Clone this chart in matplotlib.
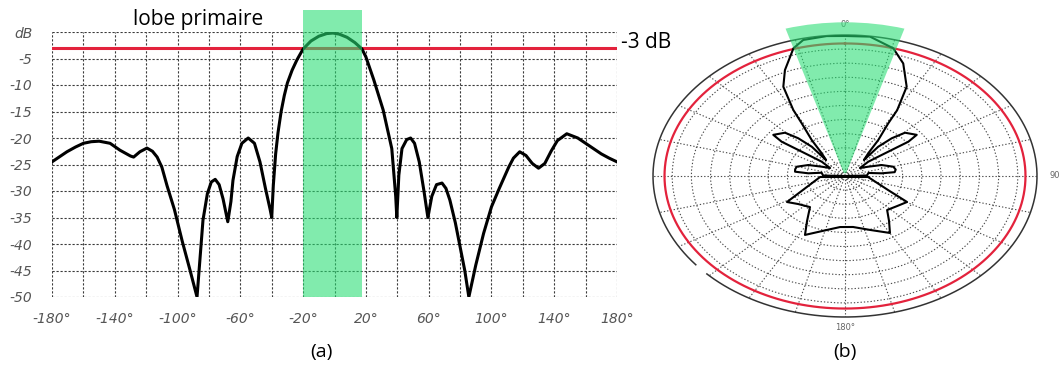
import numpy as np
from matplotlib import pyplot as plt

# (a) cartesian pattern: angle (deg) / gain (dB)
angle_a = [-180, -175, -170.5, -165, -160, -155, -150, -143, -136.7, -130, -128, -124,
           -119.5, -116, -113, -110, -106.7, -102, -97, -92, -87.6, -85.5, -83.8, -81,
           -78.5, -76, -73.5, -71, -68, -66, -64.7, -62, -59, -55, -51, -47.5, -44, -41,
           -40, -39, -37.5, -36, -34, -32, -30, -27, -24, -20, -15, -10, -5, -1, 3, 8,
           13, 17.5, 20, 25, 31, 36.5, 39, 39.7, 41, 43, 46, 48.5, 51, 54, 57, 59.5, 62,
           65, 68.5, 71, 73.5, 77, 80, 83, 85.6, 90, 95, 100, 105, 108, 111, 114, 118,
           122, 126, 130, 134, 138, 142, 148, 155, 160, 165, 170, 175, 180]
gain_a = [-24.5, -23.5, -22.6, -21.7, -21.0, -20.7, -20.6, -21.0, -22.3, -23.4, -23.6, -22.6,
          -21.9, -22.5, -23.6, -25.5, -29.0, -33.5, -39.5, -45.0, -50.0, -42.0, -35.5, -30.5,
          -28.3, -27.8, -28.8, -31.5, -35.8, -32.0, -28.0, -23.5, -21.0, -20.0, -21.0, -24.5, -29.5, -33.5,
          -35.0, -29.0, -23.0, -19.0, -15.0, -12.0, -9.6, -7.2, -5.3, -3.2, -1.7, -0.8, -0.3, -0.2, -0.4, -1.0,
          -2.0, -3.2, -4.7, -9.0, -14.7, -22.0, -31.0, -35.0, -27.0, -22.0, -20.3, -20.0, -21.0, -24.5, -30.0, -35.0, -31.0,
          -28.8, -28.5, -29.5, -31.7, -36.0, -40.5, -45.0, -50.0, -44.0, -38.0, -33.0, -29.5, -27.5, -25.5, -23.8, -22.6,
          -23.3, -24.8, -25.7, -24.8, -22.5, -20.5, -19.2, -20.0, -21.0, -22.0, -23.0, -23.8, -24.5]

# (b) polar pattern, front half (clockwise from -90 through 0 to 90)
angle_front = [-90, -88.3, -79.2, -84.3, -83.3, -79.6, -75.3, -67.8, -61.4, -53.9, -50.1, -52.0,
               -53.0, -53.6, -52.0, -45.5, -42.3, -39.8, -41.1, -36.9, -34.2, -31.1, -29.9, -26.9,
               -22.6, -16.5, -12.7, -5.5, 0, 7.5, 15.5, 20.8, 26.9, 30.2, 31.1, 34.2, 36.9, 41.1,
               39.8, 42.3, 45.5, 52.0, 53.6, 53.0, 52.0, 50.1, 53.9, 61.4, 67.8, 75.3, 80.2, 84.0,
               84.3, 80.0, 88.3, 90]
gain_front = [-50, -44.3, -43.8, -40.4, -36.9, -36.8, -37.0, -39.7, -43.1, -45.2, -42.1, -37.9,
              -33.7, -29.5, -26.3, -28.1, -31.9, -36.5, -42.5, -39.9, -34.6, -28.2, -23.0, -14.5,
              -9.3, -2.75, -0.55, -0.15, -0.35, -0.15, -3.0, -7.3, -14.5, -23.0, -28.2, -34.6, -39.9, -42.5,
              -36.5, -31.9, -28.1, -26.3, -29.5, -33.7, -37.9, -42.1, -45.2, -43.1, -39.7, -37.0, -36.6, -37.0,
              -40.4, -43.8, -44.3, -50]
# back half (star shape), closed by the flat line across the centre
angle_back = [93.3, 113.9, 119.7, 128.2, 137.7, 144.3, 149.9, 161.2, 173.4, 184.1, 193.8,
              206.5, 211.8, 219.6, 230.9, 238.6, 245.7, 266.9, 453.3]
gain_back = [-44.0, -37.75, -31.4, -32.75, -33.7, -30.35, -26.65, -29.8, -31.8, -31.85, -30.3,
             -26.65, -31.25, -35.7, -34.25, -32.3, -38.0, -43.5, -44.0]

half_power = -3
beam_a = [-20, 17.5]
beam_b = [-16.5, 16.5]

x_ticks = list(range(-180, 181, 40))
x_labels = ['{}°'.format(t) for t in x_ticks]
y_ticks = list(range(0, -51, -5))
y_labels = ['dB'] + [str(t) for t in y_ticks[1:]]

GREEN = '#26de72'
RED = '#e3223c'
GRID = dict(color='#3a3a3a', linestyle=(0, (2, 1.6)), linewidth=0.8)

fig = plt.figure(figsize=(10.62, 3.76), dpi=100)

# ---- (a) ----
ax = fig.add_axes([52 / 1062, 1 - 297 / 376, 565 / 1062, 265 / 376])
ax.plot(angle_a, gain_a, color='black', lw=2.2, solid_joinstyle='round', zorder=3)
ax.axhline(half_power, color=RED, lw=2.2, zorder=2)
ax.axvspan(beam_a[0], beam_a[1], ymin=0, ymax=1.083, color=GREEN, alpha=0.58,
           lw=0, clip_on=False, zorder=4)
ax.set_xlim(-180, 180)
ax.set_ylim(-50, 0)
ax.set_xticks(x_ticks)
ax.set_xticklabels(x_labels)
ax.set_xticks(range(-180, 181, 20), minor=True)
ax.set_yticks(y_ticks)
ax.set_yticklabels(y_labels)
ax.grid(True, which='both', **GRID)
ax.set_axisbelow(True)
ax.tick_params(which='both', length=0)
ax.tick_params(axis='x', pad=11)
ax.tick_params(axis='y', pad=14)
for lab in ax.get_xticklabels() + ax.get_yticklabels():
    lab.set_fontstyle('italic')
    lab.set_color('#555555')
    lab.set_fontsize(10)
for s in ax.spines.values():
    s.set_visible(False)

fig.text(198 / 1062, 1 - 19 / 376, 'lobe primaire', fontsize=15, family='Open Sans',
         ha='center', va='center')
fig.text(621 / 1062, 1 - 43 / 376, '-3 dB', fontsize=15, family='Open Sans',
         ha='left', va='center')
fig.text(321 / 1062, 1 - 352 / 376, '(a)', fontsize=14, family='Open Sans',
         ha='center', va='center')
fig.text(845 / 1062, 1 - 352 / 376, '(b)', fontsize=14, family='Open Sans',
         ha='center', va='center')

# ---- (b) ----
pax = fig.add_axes([653 / 1062, 1 - 317 / 376, 384 / 1062, 282 / 376], projection='polar')
pax.set_aspect('auto')
pax.set_theta_zero_location('N')
pax.set_theta_direction(-1)
pax.set_ylim(-50, 0)
pax.set_yticks(range(-45, 0, 5))
pax.set_yticklabels([])
pax.set_xticks(np.radians(np.arange(0, 360, 15)))
pax.set_xticklabels([])
pax.grid(True, color='#4a4a4a', linestyle=(0, (1.2, 1.8)), linewidth=0.8)
pax.spines['polar'].set_visible(False)
pax.tick_params(length=0)

ring = np.radians(np.arange(231, 226 + 361, 1))
pax.plot(ring, np.zeros(len(ring)), color='#333333', lw=1.1, clip_on=False)
full = np.radians(np.arange(0, 361, 1))
pax.plot(full, np.full(len(full), half_power), color=RED, lw=1.6)

pax.plot(np.radians(angle_front), gain_front, color='black', lw=1.5, solid_joinstyle='round')
pax.plot(np.radians(angle_back), gain_back, color='black', lw=1.5, solid_joinstyle='round')

pax.bar(0, 53.5, width=np.radians(beam_b[1] - beam_b[0]), bottom=-49, color=GREEN,
        alpha=0.58, lw=0, clip_on=False, zorder=4)

pax.text(0, 3.8, '0°', fontsize=6, color='#666666', ha='center', va='center', clip_on=False)
pax.text(np.pi, 3.8, '180°', fontsize=6, color='#666666', ha='center', va='center', clip_on=False)
pax.text(np.pi / 2, 4.5, '90', fontsize=6, color='#666666', ha='center', va='center', clip_on=False)

plt.savefig('out.png', dpi=100, facecolor='white')
plt.close()
